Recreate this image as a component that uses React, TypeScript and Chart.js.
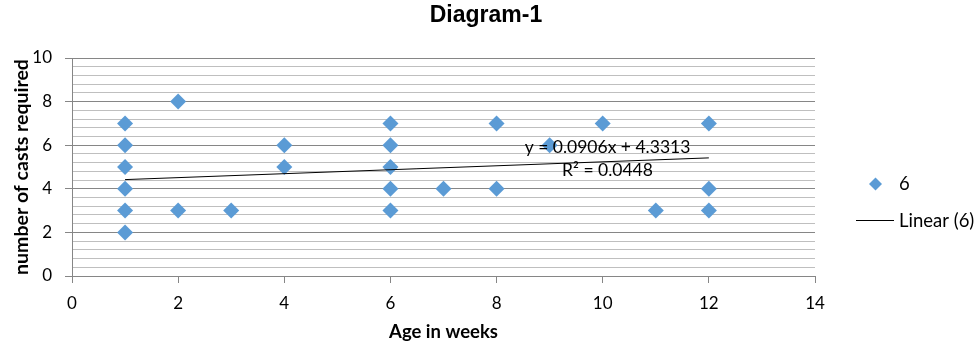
import React, { useEffect, useRef } from "react";
import { Chart, registerables } from "chart.js";

Chart.register(...registerables);

// Data: Age in weeks (x) vs number of casts required (y)
const ageWeeks = [1, 1, 1, 1, 1, 1, 2, 2, 3, 4, 4, 6, 6, 6, 6, 6, 7, 8, 8, 9, 10, 11, 12, 12, 12];
const casts = [7, 6, 5, 4, 3, 2, 8, 3, 3, 6, 5, 7, 6, 5, 4, 3, 4, 7, 4, 6, 7, 3, 7, 4, 3];

// Trend line as labelled in the picture
const trendSlope = 0.0906;
const trendIntercept = 4.3313;
const trendLabel = ["y = 0.0906x + 4.3313", "R² = 0.0448"];
const trendLabelAnchor = { x: 10.09, y1: 5.9, y2: 4.85 };

const xTicks = [0, 2, 4, 6, 8, 10, 12, 14];
const yMajorTicks = [0, 2, 4, 6, 8, 10];

const seriesName = "6";
const trendName = "Linear (6)";
const titleText = "Diagram-1";
const xTitle = "Age in weeks";
const yTitle = "number of casts required";

const BLUE = "#5B9BD5";
const FONT = "Lato, 'Open Sans', sans-serif";

function isMajor(v: number) {
  return Math.abs(v / 2 - Math.round(v / 2)) < 1e-6;
}

export default function App() {
  const ref = useRef<HTMLCanvasElement | null>(null);

  useEffect(() => {
    document.body.style.margin = "0";
    const canvas = ref.current;
    if (!canvas) return;

    const xMin = Math.min(...ageWeeks);
    const xMax = Math.max(...ageWeeks);
    const trendPts = [
      { x: xMin, y: trendSlope * xMin + trendIntercept },
      { x: xMax, y: trendSlope * xMax + trendIntercept },
    ];

    const overlay = {
      id: "overlay",
      afterDatasetsDraw(chart: any) {
        const ctx = chart.ctx;
        const xs = chart.scales.x;
        const ys = chart.scales.y;
        ctx.save();
        // Title
        ctx.fillStyle = "#000";
        ctx.font = `bold 23px 'Liberation Sans', Arial, sans-serif`;
        ctx.textAlign = "center";
        ctx.textBaseline = "middle";
        ctx.fillText(titleText, 486, 15.5);

        // Trend label
        ctx.font = `17.5px ${FONT}`;
        const lx = xs.getPixelForValue(trendLabelAnchor.x);
        ctx.fillText(trendLabel[0], lx, ys.getPixelForValue(trendLabelAnchor.y1));
        ctx.fillText(trendLabel[1], lx, ys.getPixelForValue(trendLabelAnchor.y2));

        // Legend
        const diamondX = 875.5;
        const diamondY = 184;
        const r = 6.5;
        ctx.fillStyle = BLUE;
        ctx.beginPath();
        ctx.moveTo(diamondX, diamondY - r);
        ctx.lineTo(diamondX + r, diamondY);
        ctx.lineTo(diamondX, diamondY + r);
        ctx.lineTo(diamondX - r, diamondY);
        ctx.closePath();
        ctx.fill();

        ctx.strokeStyle = "#000";
        ctx.lineWidth = 1;
        ctx.beginPath();
        ctx.moveTo(856, 220.5);
        ctx.lineTo(894, 220.5);
        ctx.stroke();

        ctx.fillStyle = "#000";
        ctx.font = `18.5px ${FONT}`;
        ctx.textAlign = "left";
        ctx.fillText(seriesName, 899, 184);
        ctx.fillText(trendName, 899, 221);
        ctx.restore();
      },
    };

    const chart = new Chart(canvas, {
      type: "scatter",
      data: {
        datasets: [
          {
            label: trendName,
            type: "line",
            data: trendPts,
            borderColor: "#000",
            borderWidth: 1,
            pointRadius: 0,
            fill: false,
          } as any,
          {
            label: seriesName,
            data: ageWeeks.map((x, i) => ({ x, y: casts[i] })),
            backgroundColor: BLUE,
            borderColor: BLUE,
            pointStyle: "rectRot",
            pointRadius: 8,
            pointHoverRadius: 8,
            borderWidth: 0,
          },
        ],
      },
      options: {
        animation: false,
        responsive: false,
        maintainAspectRatio: false,
        layout: { padding: { left: 0, right: 163, top: 58, bottom: 0 } },
        plugins: {
          legend: { display: false },
          tooltip: { enabled: false },
          title: { display: false },
        },
        scales: {
          x: {
            type: "linear",
            min: 0,
            max: 14,
            afterBuildTicks: (scale: any) => {
              scale.ticks = xTicks.map((v) => ({ value: v }));
            },
            afterFit: (scale: any) => {
              scale.height = 75;
            },
            ticks: {
              color: "#000",
              font: { family: FONT, size: 17 },
              padding: 10,
              maxRotation: 0,
              autoSkip: false,
            },
            grid: {
              drawOnChartArea: false,
              drawTicks: true,
              tickLength: 7,
              tickColor: "#868686",
            },
            border: { display: true, color: "#868686", width: 1 },
            title: {
              display: true,
              text: xTitle,
              color: "#000",
              font: { family: FONT, size: 18.5, weight: "bold" },
              padding: { top: 0, bottom: 8 },
            },
          },
          y: {
            type: "linear",
            min: 0,
            max: 10,
            afterFit: (scale: any) => {
              scale.width = 72;
            },
            ticks: {
              stepSize: 0.4,
              maxTicksLimit: 100,
              autoSkip: false,
              color: "#000",
              font: { family: FONT, size: 17 },
              padding: 13,
              callback: (v: any) => {
                const n = Number(v);
                return isMajor(n) && yMajorTicks.includes(Math.round(n)) ? String(Math.round(n)) : "";
              },
            },
            grid: {
              drawTicks: true,
              tickLength: 7,
              color: (c: any) => (c.tick && isMajor(c.tick.value) ? "#868686" : "#BFBFBF"),
              tickColor: (c: any) => (c.tick && isMajor(c.tick.value) ? "#868686" : "rgba(0,0,0,0)"),
              lineWidth: 1,
            },
            border: { display: true, color: "#868686", width: 1 },
            title: {
              display: true,
              text: yTitle,
              color: "#000",
              font: { family: FONT, size: 19.5, weight: "bold" },
              padding: { top: 10, bottom: 0 },
            },
          },
        },
      } as any,
      plugins: [overlay],
    });

    return () => chart.destroy();
  }, []);

  return <canvas ref={ref} width={978} height={351} style={{ display: "block" }} />;
}
